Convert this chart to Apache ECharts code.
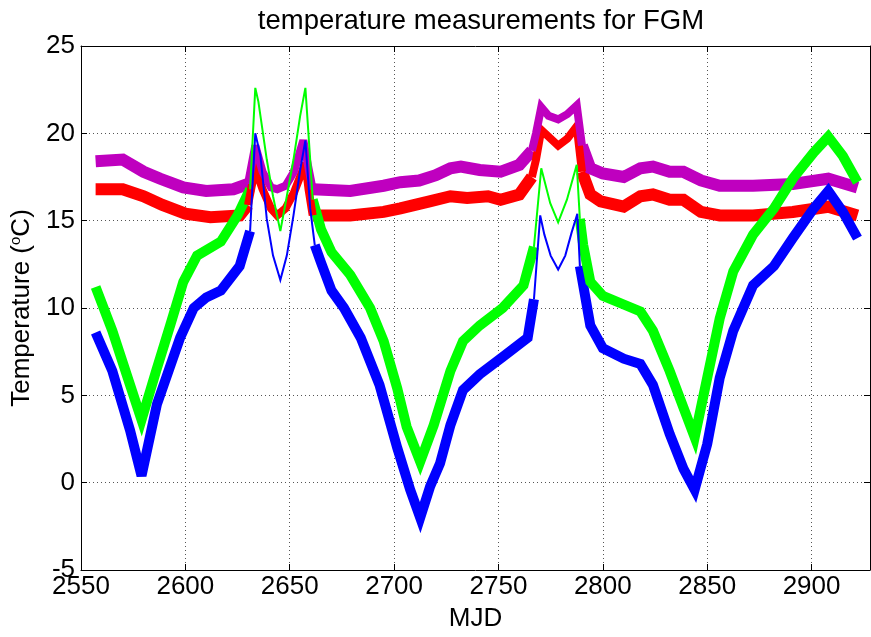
<!DOCTYPE html>
<html>
<head>
<meta charset="utf-8">
<script src="https://cdn.jsdelivr.net/npm/echarts@6/dist/echarts.min.js"></script>
<style>
html,body{margin:0;padding:0;background:#fff;}
#chart{width:871px;height:637px;}
</style>
</head>
<body>
<div id="chart"></div>
<script>
// ---- data ----
const title = 'temperature measurements for FGM';
const xTicks = [2550, 2600, 2650, 2700, 2750, 2800, 2850, 2900];
const yTicks = [-5, 0, 5, 10, 15, 20, 25];

const mjdBlue = [2557, 2565, 2573.5, 2579, 2586.4, 2597.5, 2604, 2610, 2617, 2626, 2631,
  2633.5, 2636, 2639, 2642, 2645.5, 2648.6, 2651.8, 2655, 2657.5, 2659.8, 2662,
  2665, 2670, 2676, 2684, 2693, 2701.5, 2707.7, 2712.5, 2717.3, 2722, 2727, 2733, 2741, 2752, 2764, 2767,
  2770, 2772, 2775, 2778.6, 2782, 2785, 2787.8, 2789,
  2794, 2800, 2810, 2818, 2824, 2832, 2838.6, 2844, 2850, 2856, 2862.5, 2872, 2882, 2891, 2901, 2908, 2915, 2922];
const tempBlue = [8.6, 6.4, 3.0, 0.4, 4.5, 8.3, 10.0, 10.6, 11.0, 12.4, 14.4,
  20.0, 18.7, 15.1, 13.0, 11.6, 13.0, 15.3, 17.9, 19.6, 15.7, 13.6,
  12.6, 11.0, 10.0, 8.3, 5.6, 2.0, -0.4, -2.0, -0.2, 1.1, 3.3, 5.3, 6.2, 7.2, 8.3, 10.5,
  15.3, 14.2, 13.0, 12.2, 13.0, 14.3, 15.4, 12.4,
  9.0, 7.7, 7.1, 6.8, 5.6, 2.8, 0.8, -0.4, 2.2, 6.0, 8.7, 11.3, 12.4, 14.0, 15.7, 16.7, 15.5, 14.0];

const mjdGreen = [2557, 2565, 2573.5, 2579, 2586, 2592.7, 2599, 2605.6, 2617, 2625, 2631,
  2633.5, 2635, 2639, 2642, 2645.5, 2648.6, 2651.8, 2655, 2657.5, 2659.8, 2661,
  2665, 2670, 2679, 2688.5, 2695, 2701.5, 2706, 2712.5, 2719, 2727, 2733, 2741, 2752, 2762, 2767,
  2770.5, 2774.8, 2778.6, 2782.8, 2787.5, 2789,
  2790.6, 2794, 2800, 2810, 2818, 2824, 2832, 2838.6, 2844, 2850, 2856, 2862.5, 2872, 2882, 2891, 2901, 2908, 2915, 2922];
const tempGreen = [11.2, 8.7, 5.6, 3.6, 6.4, 9.0, 11.5, 13.0, 13.8, 15.3, 16.8,
  22.6, 21.8, 18.5, 16.4, 14.4, 16.4, 18.5, 21.0, 22.6, 18.5, 16.2,
  14.5, 13.2, 11.9, 10.0, 8.1, 5.4, 3.2, 1.2, 3.3, 6.4, 8.1, 9.0, 10.0, 11.3, 13.5,
  18.0, 16.0, 14.9, 16.2, 18.2, 15.1,
  13.6, 11.5, 10.7, 10.2, 9.8, 8.7, 6.4, 4.3, 2.6, 6.0, 9.4, 12.1, 14.2, 15.7, 17.4, 18.9, 19.8, 18.7, 17.2];

const mjdRed = [2557, 2570, 2580, 2589, 2600, 2612, 2626, 2630,
  2633.5, 2637, 2641, 2644, 2648, 2652, 2657.5, 2659, 2661,
  2679, 2695, 2703, 2717, 2727, 2735, 2745, 2751, 2760, 2766,
  2768, 2770.5, 2775, 2778.6, 2783, 2787.5, 2790,
  2794, 2799, 2810, 2818, 2824, 2832, 2838.6, 2847, 2856, 2872, 2891, 2908, 2922];
const tempRed = [16.8, 16.8, 16.4, 15.9, 15.4, 15.2, 15.3, 15.9,
  18.0, 16.8, 15.7, 15.3, 15.7, 16.6, 18.3, 16.8, 15.3,
  15.3, 15.5, 15.7, 16.1, 16.4, 16.3, 16.4, 16.2, 16.5, 17.5,
  18.5, 20.2, 19.7, 19.3, 19.7, 20.4, 17.8,
  16.5, 16.1, 15.8, 16.4, 16.5, 16.2, 16.2, 15.5, 15.3, 15.3, 15.5, 15.8, 15.3];

const mjdPurple = [2557, 2570, 2580, 2588, 2599, 2610, 2623, 2630,
  2633.5, 2637, 2641, 2644, 2648, 2652, 2656.5, 2659, 2661,
  2679, 2695, 2703, 2712, 2720, 2727, 2732, 2741, 2751, 2760, 2766,
  2768, 2770.5, 2774, 2778.6, 2783, 2787.5, 2790,
  2794, 2800, 2810, 2818, 2824, 2832, 2838.6, 2847, 2856, 2872, 2891, 2908, 2922];
const tempPurple = [18.4, 18.5, 17.8, 17.4, 16.9, 16.7, 16.8, 17.1,
  19.3, 17.8, 16.9, 16.8, 17.0, 17.8, 19.6, 18.0, 16.8,
  16.7, 17.0, 17.2, 17.3, 17.6, 18.0, 18.1, 17.9, 17.8, 18.2, 19.0,
  20.0, 21.5, 21.0, 20.8, 21.1, 21.6, 19.3,
  18.0, 17.7, 17.5, 18.0, 18.1, 17.8, 17.8, 17.3, 17.0, 17.0, 17.1, 17.4, 16.9];

// ---- helpers ----
function split(xs, ys, ranges) {
  const inner = new Array(xs.length).fill(false);
  const thin = [];
  ranges.forEach(([a, b]) => {
    let i0 = 0;
    for (let i = 0; i < xs.length; i++) if (xs[i] <= a) i0 = i;
    let i1 = xs.length - 1;
    for (let i = xs.length - 1; i >= 0; i--) if (xs[i] >= b) i1 = i;
    for (let i = i0; i <= i1; i++) {
      thin.push([xs[i], ys[i]]);
      if (i > i0 && i < i1) inner[i] = true;
    }
    thin.push([xs[i1], '-']);
  });
  const thick = [];
  for (let i = 0; i < xs.length; i++) {
    if (inner[i]) {
      if (!inner[i - 1]) thick.push([xs[i], '-']);
      continue;
    }
    thick.push([xs[i], ys[i]]);
  }
  return { thick, thin };
}

const peaksBG = [[2631, 2661], [2767, 2789]];
const peaksRP = [[2630, 2661], [2766, 2790]];

const blue = split(mjdBlue, tempBlue, peaksBG);
const green = split(mjdGreen, tempGreen, peaksBG);
const red = split(mjdRed, tempRed, peaksRP);
const purple = split(mjdPurple, tempPurple, peaksRP);

function line(data, color, width, z) {
  return {
    type: 'line', data: data, showSymbol: false, symbol: 'none', z: z,
    animation: false, silent: true,
    lineStyle: { color: color, width: width, join: 'miter', miterLimit: 4, cap: 'butt' }
  };
}

const font = 'Liberation Sans, Arial, Helvetica, sans-serif';
const chart = echarts.init(document.getElementById('chart'), null, { renderer: 'canvas' });

chart.setOption({
  backgroundColor: '#ffffff',
  animation: false,
  title: {
    text: title, left: 476, textAlign: 'center', top: 2,
    textStyle: { fontFamily: font, fontSize: 27.5, fontWeight: 'normal', color: '#000' }
  },
  grid: { left: 81, right: 1, top: 46, bottom: 63, containLabel: false },
  xAxis: [{
    type: 'value', min: 2550, max: 2928, interval: 50,
    name: 'MJD', nameLocation: 'middle', nameGap: 36,
    nameTextStyle: { fontFamily: font, fontSize: 26, color: '#000' },
    axisLine: { show: true, onZero: false, lineStyle: { color: '#000', width: 1 } },
    axisTick: { show: true, inside: true, length: 6, lineStyle: { color: '#000' } },
    axisLabel: {
      fontFamily: font, fontSize: 26, color: '#000', margin: 4,
      showMaxLabel: false,
      formatter: v => (xTicks.indexOf(v) >= 0 ? String(v) : '')
    },
    splitLine: { show: true, lineStyle: { color: '#555', type: [1, 3], width: 1 } }
  }, {
    type: 'value', position: 'top', min: 2550, max: 2928, interval: 50,
    axisLine: { show: true, onZero: false, lineStyle: { color: '#000', width: 1 } },
    axisTick: { show: true, inside: true, length: 6, lineStyle: { color: '#000' } },
    axisLabel: { show: false }, splitLine: { show: false }
  }],
  yAxis: [{
    type: 'value', min: -5, max: 25, interval: 5,
    name: 'Temperature ({sup|o}C)', nameLocation: 'middle', nameGap: 33,
    nameTextStyle: {
      fontFamily: font, fontSize: 26, color: '#000',
      rich: { sup: { fontFamily: font, fontSize: 15, color: '#000', verticalAlign: 'top', padding: [0, 0, 12, 0] } }
    },
    axisLine: { show: true, onZero: false, lineStyle: { color: '#000', width: 1 } },
    axisTick: { show: true, inside: true, length: 6, lineStyle: { color: '#000' } },
    axisLabel: {
      fontFamily: font, fontSize: 26, color: '#000', margin: 6,
      formatter: v => (yTicks.indexOf(v) >= 0 ? String(v) : '')
    },
    splitLine: { show: true, lineStyle: { color: '#555', type: [1, 3], width: 1 } }
  }, {
    type: 'value', position: 'right', min: -5, max: 25, interval: 5,
    axisLine: { show: true, onZero: false, lineStyle: { color: '#000', width: 1 } },
    axisTick: { show: true, inside: true, length: 6, lineStyle: { color: '#000' } },
    axisLabel: { show: false }, splitLine: { show: false }
  }],
  series: [
    line(red.thick, '#ff0000', 12, 2),
    line(purple.thick, '#bf00bf', 12, 3),
    line(blue.thick, '#0000ff', 10, 4),
    line(green.thick, '#00ff00', 10, 5),
    line(red.thin, '#ff0000', 8, 6),
    line(purple.thin, '#bf00bf', 8, 7),
    line(blue.thin, '#0000ff', 2, 8),
    line(green.thin, '#00ff00', 2, 9)
  ]
});
</script>
</body>
</html>
